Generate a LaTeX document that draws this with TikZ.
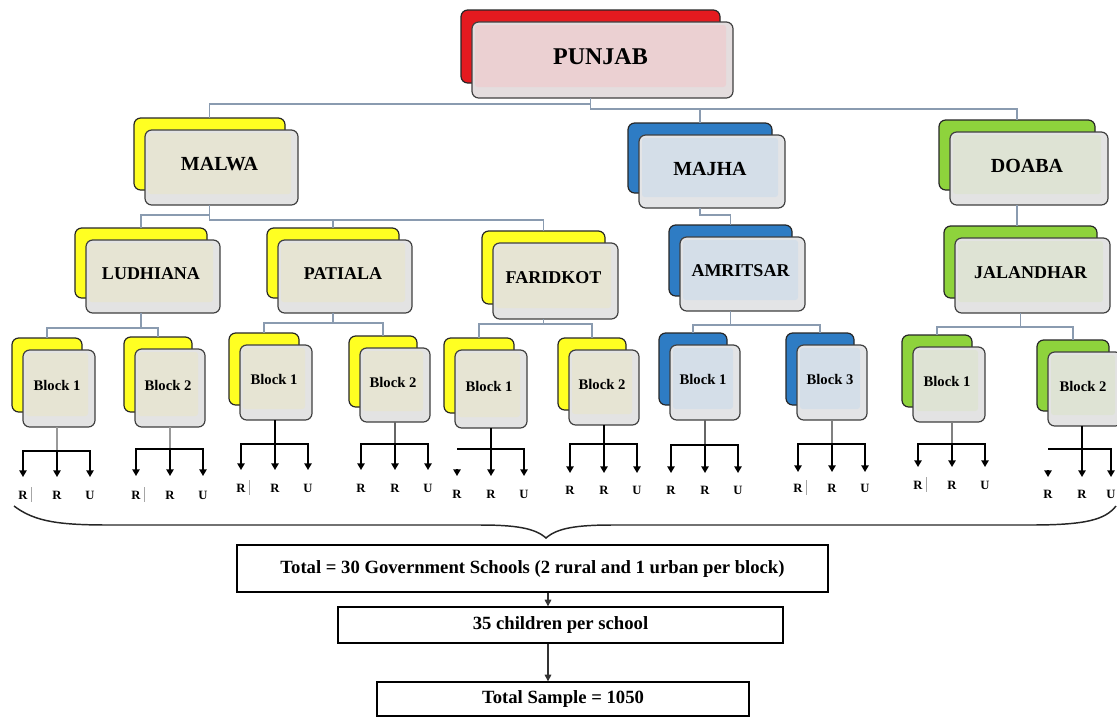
\documentclass[tikz,border=0pt]{standalone}
\usepackage{fontspec}
\setmainfont{Liberation Serif}
\usetikzlibrary{arrows.meta}
\definecolor{rback}{HTML}{E41A1F}
\definecolor{rfront}{HTML}{E4DDDE}
\definecolor{rin}{HTML}{EBD0D2}
\definecolor{yback}{HTML}{FFFF22}
\definecolor{yfront}{HTML}{E3E3E3}
\definecolor{yin}{HTML}{E6E4D3}
\definecolor{bback}{HTML}{2E7CC4}
\definecolor{bfront}{HTML}{E3E4E6}
\definecolor{bin}{HTML}{D4DEE8}
\definecolor{gback}{HTML}{8ED33C}
\definecolor{gfront}{HTML}{E3E3E3}
\definecolor{gin}{HTML}{DEE3D4}
\definecolor{treec}{HTML}{8A9BB0}
\tikzset{
 tree/.style={draw=treec, line width=1.2pt},
 leaf/.style={draw=black, line width=1.1pt},
 leafarr/.style={leaf, -{Triangle[width=5.5pt,length=5pt]}},
 flow/.style={draw=black!80, line width=0.8pt, -{Triangle[width=5pt,length=5pt]}},
 backbox/.style={draw=black!85, line width=0.9pt, rounded corners=5pt, fill=#1back, inner sep=0pt, outer sep=0pt},
 frontbox/.style={draw=black!75, line width=0.9pt, rounded corners=5pt, fill=#1front, inner sep=0pt, outer sep=0pt},
 boxtext/.style={inner sep=0pt, text=black},
 leaflab/.style={font=\bfseries\fontsize{9.5}{10}\selectfont, inner sep=0pt},
 barl/.style={draw=black!35, line width=0.5pt},
 bracel/.style={draw=black!85, line width=1.1pt},
 flowbox/.style={draw=black, line width=1pt, inner sep=0pt, font=\bfseries\fontsize{14}{15}\selectfont},
}
% name, x1, y1, x2, y2, group, font size, text
\newcommand{\twobox}[8]{%
  \node[backbox=#6, minimum width={(#4-#2-2)*0.75pt}, minimum height={(#5-#3-3)*0.75pt}] (#1b) at ({(#2+#4)/2-12},{(#3+#5)/2-13.5}) {};
  \node[frontbox=#6, minimum width={(#4-#2)*0.75pt}, minimum height={(#5-#3)*0.75pt}] (#1) at ({(#2+#4)/2},{(#3+#5)/2}) {};
  \fill[#6in, rounded corners=2pt] ({#2+3},{#3+3}) rectangle ({#4-7},{#5-11});
  \node[boxtext, font=\bfseries\fontsize{#7}{#7}\selectfont] (#1t) at ({(#2+#4)/2-2},{(#3+#5)/2-3}) {#8};
}
% block node, cx, yh, ytip, ylabel, stem colour, bar, left head only, right offset
\newcommand{\leafset}[9]{%
  \coordinate (#1-h) at (#2,#3);
  \draw[leaf, draw=#6] (#1.south -| #1-h) -- (#1-h);
  \ifnum#8=0
    \draw[leafarr] (#1-h) -| ({#2-34},#4);
  \else
    \draw[leaf] (#1-h) -- ({#2-34},#3);
    \draw[leafarr] ({#2-34},{#4-7}) -- ({#2-34},#4);
  \fi
  \draw[leafarr] (#1-h) -- (#2,#4);
  \draw[leafarr] (#1-h) -| ({#2+#9},#4);
  \node[leaflab] (#1-r1) at ({#2-34},#5) {R};
  \node[leaflab] (#1-r2) at (#2,#5) {R};
  \node[leaflab] (#1-u) at ({#2+#9},#5) {U};
  \ifnum#7=1 \draw[barl] ({#2-34+8},{#5-8}) -- ({#2-34+8},{#5+7}); \fi
}
\begin{document}
\begin{tikzpicture}[x=0.75pt,y=-0.75pt]
\useasboundingbox (0,0) rectangle (1117,719);
\clip (0,0) rectangle (1117,719);
% level 0
\twobox{punjab}{472}{22}{733}{98}{r}{18}{PUNJAB}
% level 1
\twobox{malwa}{145}{130}{298}{205}{y}{15}{MALWA}
\twobox{majha}{639}{135}{785}{208}{b}{15}{MAJHA}
\twobox{doaba}{950}{132}{1108}{205}{g}{15}{DOABA}
% level 2
\twobox{ludhiana}{86}{240}{220}{313}{y}{13.5}{LUDHIANA}
\twobox{patiala}{278}{240}{412}{313}{y}{13.5}{PATIALA}
\twobox{faridkot}{493}{243}{618}{319}{y}{13.5}{FARIDKOT}
\twobox{amritsar}{680}{237}{805}{311}{b}{13.5}{AMRITSAR}
\twobox{jalandhar}{955}{238}{1110}{313}{g}{13.5}{JALANDHAR}
% level 3
\twobox{lbA}{23}{350}{95}{427}{y}{11}{Block 1}
\twobox{lbB}{135}{349}{205}{427}{y}{11}{Block 2}
\twobox{pbA}{240}{345}{312}{420}{y}{11}{Block 1}
\twobox{pbB}{360}{348}{430}{422}{y}{11}{Block 2}
\twobox{fbA}{455}{350}{527}{428}{y}{11}{Block 1}
\twobox{fbB}{569}{350}{639}{425}{y}{11}{Block 2}
\twobox{abA}{670}{345}{740}{420}{b}{11}{Block 1}
\twobox{abB}{797}{345}{867}{420}{b}{11}{Block 3}
\twobox{jbA}{913}{347}{985}{422}{g}{11}{Block 1}
\twobox{jbB}{1048}{352}{1122}{426}{g}{11}{Block 2}
% tree connectors
\draw[tree] (punjab.south -| punjabb.north) -- ++(0,6) -| (malwab.north);
\draw[tree] (punjab.south -| punjabb.north) -- ++(0,11) -| (majhab.north);
\draw[tree] (punjab.south -| punjabb.north) -- ++(0,11) -| (doabab.north);
\draw[tree] (malwa.south -| malwab.north) -- ++(0,10) -| (ludhianab.north);
\draw[tree] (malwa.south -| malwab.north) -- ++(0,15) -| (patialab.north);
\draw[tree] (malwa.south -| malwab.north) -- ++(0,15) -| (faridkotb.north);
\draw[tree] (majha.south -| majhab.north) -- ++(0,7) -| (amritsarb.north);
\draw[tree] (doaba.south -| doabab.north) -- (jalandharb.north -| doabab.north);
\draw[tree] (ludhiana.south -| ludhianab.north) -- ++(0,15) -| (lbAb.north);
\draw[tree] (ludhiana.south -| ludhianab.north) -- ++(0,15) -| (lbBb.north);
\draw[tree] (patiala.south -| patialab.north) -- ++(0,10) -| (pbAb.north);
\draw[tree] (patiala.south -| patialab.north) -- ++(0,10) -| (pbBb.north);
\draw[tree] (faridkot.south -| faridkotb.north) -- ++(0,5) -| (fbAb.north);
\draw[tree] (faridkot.south -| faridkotb.north) -- ++(0,5) -| (fbBb.north);
\draw[tree] (amritsar.south -| amritsarb.north) -- ++(0,14) -| (abAb.north);
\draw[tree] (amritsar.south -| amritsarb.north) -- ++(0,14) -| (abBb.north);
\draw[tree] (jalandhar.south -| jalandharb.north) -- ++(0,14) -| (jbAb.north);
\draw[tree] (jalandhar.south -| jalandharb.north) -- ++(0,14) -| (jbBb.north);
% leaves
\leafset{lbA}{57}{451}{477}{495}{black!40}{1}{0}{33}
\leafset{lbB}{170}{449}{476}{495}{black!40}{1}{0}{33}
\leafset{pbA}{275}{444}{470}{488}{black}{1}{0}{33}
\leafset{pbB}{395}{444}{470}{488}{black!60}{0}{0}{33}
\leafset{fbA}{491}{449}{476}{494}{black}{0}{1}{33}
\leafset{fbB}{604}{444}{473}{490}{black}{0}{0}{33}
\leafset{abA}{705}{445}{473}{490}{black!60}{0}{0}{33}
\leafset{abB}{832}{444}{472}{488}{black!50}{1}{0}{33}
\leafset{jbA}{952}{444}{467}{485}{black!50}{1}{0}{33}
\leafset{jbB}{1082}{449}{477}{494}{black}{0}{1}{29}
% brace
\coordinate (brL) at (14,506);
\coordinate (brT) at (546,538);
\coordinate (brR) at (1116,506);
\draw[bracel] (brL) .. controls (35,522) and (60,525) .. (110,525) -- (480,525) .. controls (515,525) and (535,528) .. (brT) .. controls (557,528) and (577,525) .. (612,525) -- (1030,525) .. controls (1085,525) and (1105,520) .. (brR);
% bottom flow
\node[flowbox, minimum width=443.25pt, minimum height=35.25pt] (tot) at (532.5,568.5) {Total = 30 Government Schools (2 rural and 1 urban per block)};
\node[flowbox, minimum width=333.75pt, minimum height=27pt] (kids) at (560.5,625) {35 children per school};
\node[flowbox, minimum width=279pt, minimum height=25.5pt] (samp) at (563,699) {Total Sample = 1050};
\coordinate (kA) at (548,0);
\draw[flow] (tot.south -| kA) -- (kids.north -| kA);
\draw[flow] (kids.south -| kA) -- (samp.north -| kA);
\end{tikzpicture}
\end{document}
